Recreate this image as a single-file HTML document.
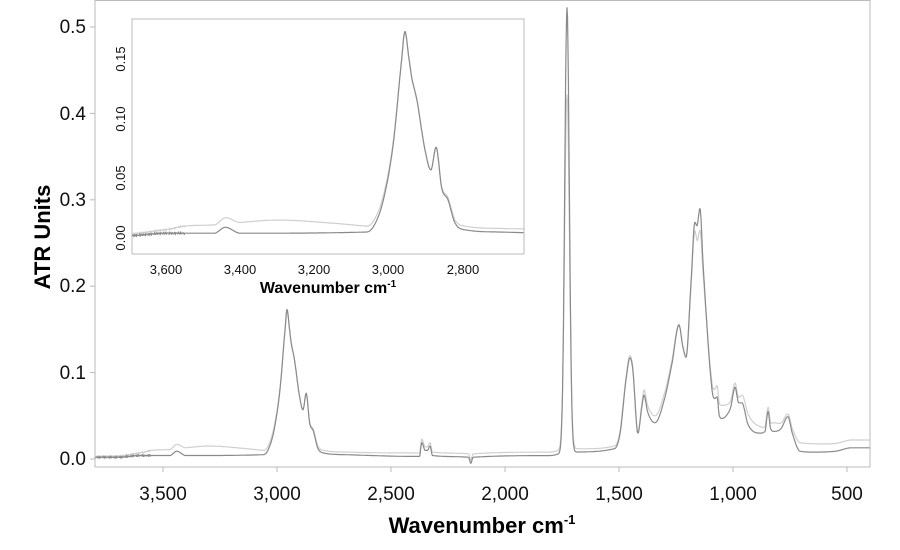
<!DOCTYPE html>
<html><head><meta charset="utf-8"><style>
body{margin:0;background:#fff;}
svg{display:block;font-family:"Liberation Sans",sans-serif;}
</style></head><body>
<svg id="s" width="900" height="550" xmlns="http://www.w3.org/2000/svg">
<rect x="95" y="0.5" width="775" height="466.5" fill="none" stroke="#bbb" stroke-width="1"/>
<g font-size="19" fill="#111" text-anchor="end">
<text x="86" y="465">0.0</text><text x="86" y="379">0.1</text><text x="86" y="292">0.2</text>
<text x="86" y="206">0.3</text><text x="86" y="120">0.4</text><text x="86" y="33">0.5</text>
</g>
<g font-size="19" fill="#111" text-anchor="middle">
<text x="163" y="500">3,500</text><text x="277" y="500">3,000</text><text x="391" y="500">2,500</text>
<text x="505" y="500">2,000</text><text x="619" y="500">1,500</text><text x="733" y="500">1,000</text><text x="847" y="500">500</text>
</g>
<text x="482" y="533" font-size="22" font-weight="bold" text-anchor="middle">Wavenumber cm<tspan font-size="13" dy="-9">-1</tspan></text>
<text transform="translate(50,237) rotate(-90)" font-size="22" font-weight="bold" text-anchor="middle">ATR Units</text>
<g id="ticks" stroke="#bbb"></g>
<g id="main"></g>
<rect x="132" y="19" width="392" height="235" fill="#fff" stroke="#bbb"/>
<g font-size="13" fill="#111" text-anchor="middle">
<text x="166" y="274">3,600</text><text x="240" y="274">3,400</text><text x="314" y="274">3,200</text>
<text x="388" y="274">3,000</text><text x="463" y="274">2,800</text>
<text transform="translate(125,238) rotate(-90)">0.00</text><text transform="translate(125,178) rotate(-90)">0.05</text>
<text transform="translate(125,119) rotate(-90)">0.10</text><text transform="translate(125,59) rotate(-90)">0.15</text>
</g>
<text x="328" y="293" font-size="16" font-weight="bold" text-anchor="middle">Wavenumber cm<tspan font-size="10" dy="-6">-1</tspan></text>
<g id="inset"></g>
</svg>
<script>
const D=[[3800,0.002],[3700,0.002],[3600,0.004],[3470,0.004],[3440,0.009],[3400,0.004],[3060,0.005],[3040,0.01],[3014,0.032],[2987,0.08],[2965,0.149],[2956,0.173],[2945,0.15],[2938,0.135],[2924,0.116],[2902,0.074],[2886,0.057],[2872,0.076],[2857,0.042],[2840,0.032],[2821,0.0125],[2790,0.0067],[2700,0.005],[2400,0.003],[2375,0.003],[2365,0.019],[2350,0.01],[2340,0.01],[2329,0.015],[2318,0.004],[2160,0.002],[2150,-0.005],[2140,0.002],[1800,0.004],[1760,0.006],[1700,0.008],[1520,0.012],[1495,0.03],[1470,0.09],[1452,0.117],[1440,0.105],[1417,0.03],[1400,0.06],[1390,0.074],[1375,0.055],[1342,0.042],[1300,0.07],[1268,0.11],[1237,0.155],[1220,0.13],[1206,0.118],[1185,0.2],[1167,0.274],[1158,0.27],[1145,0.29],[1130,0.22],[1092,0.08],[1080,0.07],[1070,0.072],[1060,0.05],[1048,0.047],[1030,0.05],[1010,0.06],[991,0.083],[975,0.065],[961,0.065],[934,0.04],[880,0.03],[860,0.032],[846,0.055],[835,0.035],[820,0.032],[790,0.035],[759,0.049],[740,0.03],[706,0.009],[650,0.008],[550,0.009],[480,0.013],[400,0.013]];
const L=[[3800,0.001],[3600,0.003],[3550,0.006],[3470,0.007],[3440,0.008],[3400,0.009],[3300,0.011],[3150,0.008],[3060,0.005],[3020,0.004],[2990,0.002],[2960,0],[2880,0],[2840,0.002],[2800,0.003],[2700,0.003],[2400,0.004],[2000,0.004],[1760,0.004],[1500,0.003],[1460,0.003],[1420,0],[1390,0.006],[1342,0.008],[1250,0.002],[1167,-0.01],[1145,-0.025],[1130,-0.01],[1100,0.005],[1048,0.015],[991,0.005],[934,0.012],[846,0.005],[820,0.01],[759,0.003],[706,0.01],[550,0.009],[400,0.009]];
function mk(T){const n=T.length,x=T.map(p=>-p[0]),y=T.map(p=>p[1]),d=[],m=[];
 for(let i=0;i<n-1;i++)d.push((y[i+1]-y[i])/(x[i+1]-x[i]));
 m[0]=d[0];m[n-1]=d[n-2];
 for(let i=1;i<n-1;i++){m[i]=(d[i-1]*d[i]<=0)?0:(d[i-1]+d[i])/2;}
 for(let i=0;i<n-1;i++){if(d[i]===0){m[i]=0;m[i+1]=0;continue;}let a=m[i]/d[i],b=m[i+1]/d[i],s=a*a+b*b;if(s>9){let t=3/Math.sqrt(s);m[i]=t*a*d[i];m[i+1]=t*b*d[i];}}
 return function(w){let X=-w;for(let i=0;i<n-1;i++){if(X>=x[i]&&X<=x[i+1]){let h=x[i+1]-x[i],t=(X-x[i])/h,t2=t*t,t3=t2*t;
  return (2*t3-3*t2+1)*y[i]+(t3-2*t2+t)*h*m[i]+(-2*t3+3*t2)*y[i+1]+(t3-t2)*h*m[i+1];}}return y[n-1];};}
const fD=mk(D),fL=mk(L);
function g(w,c,a,s){return a*Math.exp(-(w-c)*(w-c)/(2*s*s));}
function noise(w){return w>3550?0.0012*Math.sin(w*1.7)*Math.cos(w*0.63):0;}
function dark(w){return fD(w)+g(w,1728,0.515,10)+noise(w);}
function light(w){return fD(w)+fL(w)+g(w,1728,0.41,10.5)+noise(w)*0.7;}
function path(f,x0,x1,mx,my,st){let d="";for(let w=x0;w>=x1;w-=st){let x=mx(w),y=my(f(w));d+=(d?"L":"M")+x.toFixed(1)+","+y.toFixed(1);}return d;}
const NS="http://www.w3.org/2000/svg";
function add(id,d,c){let p=document.createElementNS(NS,"path");p.setAttribute("d",d);p.setAttribute("fill","none");p.setAttribute("stroke",c);p.setAttribute("stroke-width","1.2");p.setAttribute("stroke-linejoin","round");document.getElementById(id).appendChild(p);}
let mx=w=>277+(3000-w)*0.228, my=v=>459-v*864;
add("main",path(light,3798,400,mx,my,2),"#cfcfcf");add("main",path(dark,3798,400,mx,my,2),"#8a8a8a");
let ix=w=>166+(3600-w)*0.371, iy=v=>238-v*1194;
add("inset",path(light,3692,2635,ix,iy,1.5),"#cfcfcf");add("inset",path(dark,3692,2635,ix,iy,1.5),"#8a8a8a");
let t="";[0,0.1,0.2,0.3,0.4,0.5].forEach(v=>{let y=my(v);t+=`<line x1="90" x2="95" y1="${y}" y2="${y}"/>`;});
[3500,3000,2500,2000,1500,1000,500].forEach(w=>{let x=mx(w);t+=`<line x1="${x}" x2="${x}" y1="467" y2="472"/>`;});
document.getElementById("ticks").innerHTML=t;
</script>
</body></html>
